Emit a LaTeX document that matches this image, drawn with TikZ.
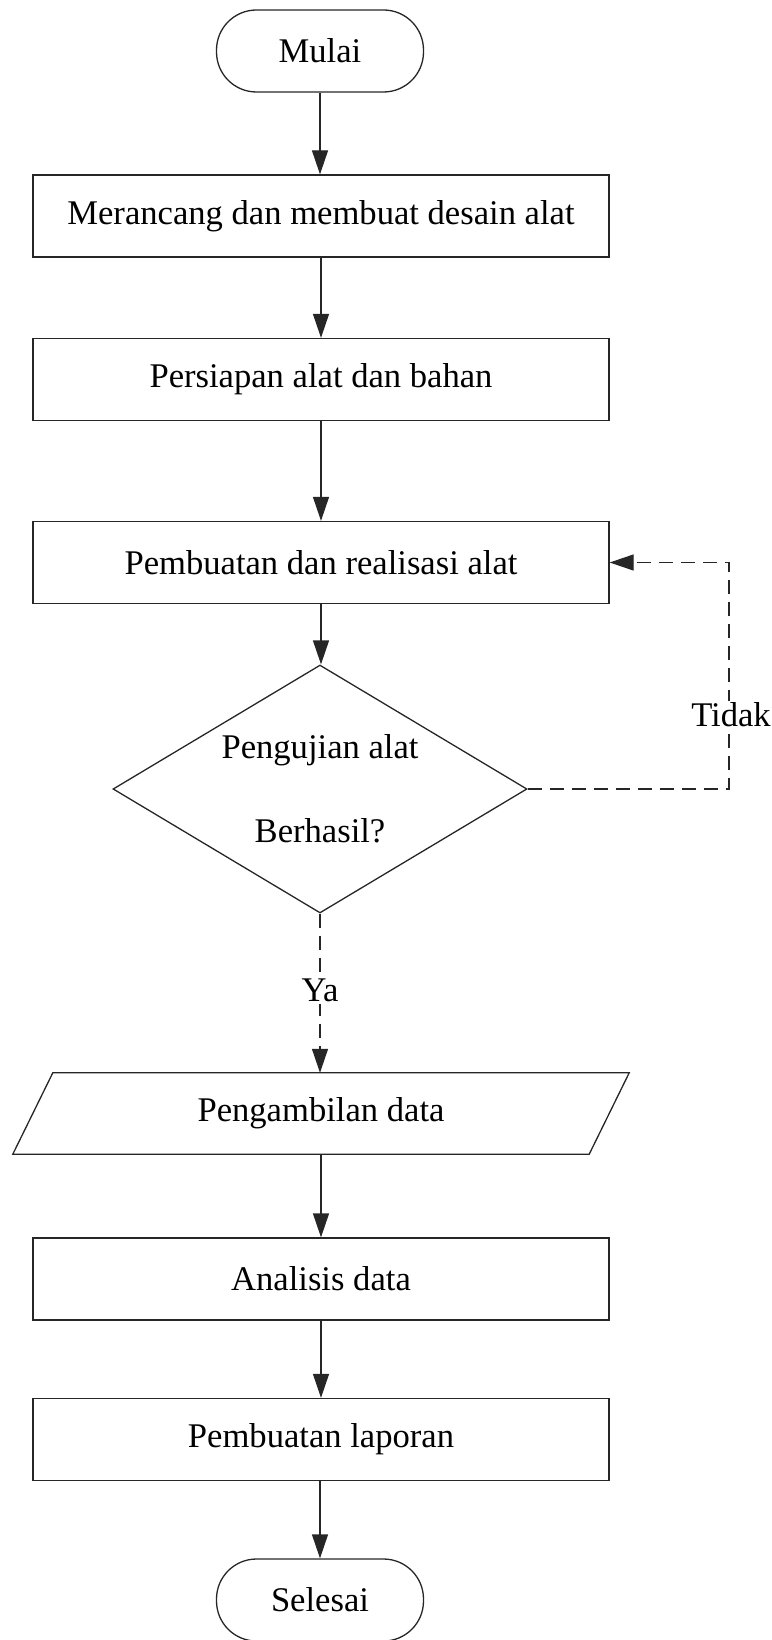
\documentclass[tikz,border=0pt]{standalone}
\usepackage{fontspec}
\setmainfont{Liberation Serif}
\usetikzlibrary{arrows.meta,shapes.geometric}
\begin{document}
\begin{tikzpicture}[x=1pt,y=-1pt,
 every node/.style={font=\fontsize{34.6}{40}\selectfont},
 box/.style={draw=black!85,line width=1.3pt,minimum width=576pt,minimum height=82pt,inner sep=0pt},
 term/.style={draw=black!85,line width=1.3pt,rounded corners=40pt,minimum width=207pt,minimum height=82pt,inner sep=0pt},
 dec/.style={draw=black!85,line width=1.3pt,diamond,minimum width=414pt,minimum height=248pt,inner sep=0pt},
 plain/.style={draw=none,minimum width=576pt,minimum height=81pt,inner sep=0pt},
 arr/.style={-{Triangle[length=24pt,width=16pt]},line width=1.3pt,draw=black!85},
 dsh/.style={arr,dash pattern=on 14pt off 8pt},
 lbl/.style={fill=white,inner sep=2pt}]
\useasboundingbox (0,0) rectangle (771,1640);
\node[term] (start) at (320,51) {Mulai};
\node[box] (b1) at (321,216) {Merancang dan membuat desain alat};
\node[box] (b2) at (321,379.5) {Persiapan alat dan bahan};
\node[box] (b3) at (321,562.5) {Pembuatan dan realisasi alat};
\node[dec] (d) at (320,789) {};
\node[align=center] (dt) at (d.center) {Pengujian alat\\[44pt]Berhasil?};
\node[plain] (p) at (321,1113.5) {Pengambilan data};
\draw[line width=1.3pt,draw=black!85] ([xshift=20pt]p.north west) -- ([xshift=20pt]p.north east) -- ([xshift=-20pt]p.south east) -- ([xshift=-20pt]p.south west) -- cycle;
\node[box] (b4) at (321,1279) {Analisis data};
\node[box] (b5) at (321,1439.5) {Pembuatan laporan};
\node[term] (end) at (320,1600) {Selesai};
\draw[arr] (start.south) -- (start.south |- b1.north);
\draw[arr] (b1.south) -- (b2.north);
\draw[arr] (b2.south) -- (b3.north);
\draw[arr] (b3.south) -- (b3.south |- d.north);
\coordinate (c1) at (729,789);
\coordinate (c2) at (729,562.5);
\draw[dsh] (d.east) -- (c1) -- (c2) -- (b3.east);
\node[lbl] (t) at (731,715) {Tidak};
\draw[dsh] (d.south) -- (d.south |- p.north);
\node[lbl] (ya) at (320,990) {Ya};
\draw[arr] (p.south) -- (b4.north);
\draw[arr] (b4.south) -- (b5.north);
\draw[arr] (b5.south) -- (b5.south -| end.north) -- (end.north);
\end{tikzpicture}
\end{document}
